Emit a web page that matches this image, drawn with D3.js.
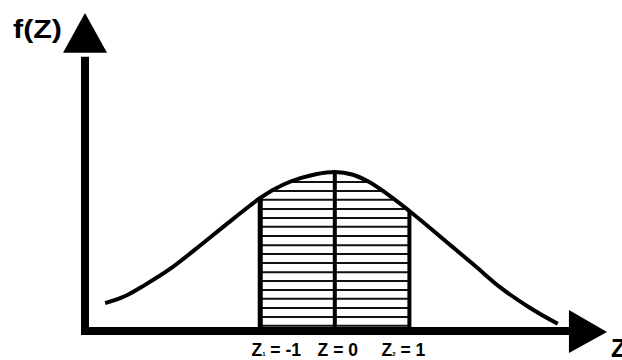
<!DOCTYPE html>
<html>
<head>
<meta charset="utf-8">
<script src="https://cdn.jsdelivr.net/npm/d3@7"></script>
<style>
  body { margin: 0; background: #fff; }
  text { font-family: "Liberation Sans", Arial, sans-serif; font-weight: bold; fill: #000; }
</style>
</head>
<body>
<div id="chart"></div>
<script>
// curve (z, f(z))
const zVals = [-3.08, -2.81, -2.545, -2.21, -1.88, -1.43, -1.14, -1.0, -0.695, -0.45, -0.24, 0, 0.244, 0.45, 0.70, 1.0, 1.55, 1.88, 2.21, 2.62, 2.99];
const fVals = [0.070, 0.088, 0.116, 0.156, 0.204, 0.272, 0.315, 0.335, 0.368, 0.385, 0.395, 0.400, 0.393, 0.376, 0.345, 0.302, 0.216, 0.164, 0.111, 0.058, 0.018];

// shaded band and its boundary lines
const bandZ = [-1, 0, 1];
const tickLabels = [["Z", "1", " = -1"], ["Z", "", " = 0"], ["Z", "2", " = 1"]];
const labelShift = [16, 3, -6];

// horizontal hatch levels (f units)
const hatchLevels = [0.013, 0.035, 0.058, 0.081, 0.103, 0.126, 0.148, 0.171, 0.194, 0.216, 0.239, 0.262, 0.284, 0.307, 0.330, 0.352, 0.375];

const width = 622, height = 360;

const svg = d3.select("#chart")
    .append("svg")
    .attr("width", width)
    .attr("height", height);

const x = d3.scaleLinear().domain([-3.35, 3.65]).range([85, 607]);
const y = d3.scaleLinear().domain([0, 0.8]).range([331, 13]);

const pts = zVals.map((z, i) => ({ z: z, f: fVals[i] }));
const band = pts.filter(d => d.z >= -1 && d.z <= 1);

// clip for hatching = area under the curve between z1 and z2
svg.append("clipPath")
    .attr("id", "band")
    .append("path")
    .attr("d", d3.area()
        .x(d => x(d.z))
        .y0(y(0))
        .y1(d => y(d.f))
        .curve(d3.curveMonotoneX)(band));

svg.append("g")
    .attr("clip-path", "url(#band)")
    .selectAll("line")
    .data(hatchLevels)
    .enter()
    .append("line")
    .attr("x1", x(-1))
    .attr("x2", x(1))
    .attr("y1", d => y(d))
    .attr("y2", d => y(d))
    .attr("stroke", "#111")
    .attr("stroke-width", 2);

// vertical lines at z1, 0, z2
svg.selectAll(".vline")
    .data(bandZ)
    .enter()
    .append("line")
    .attr("class", "vline")
    .attr("x1", d => x(d))
    .attr("x2", d => x(d))
    .attr("y1", y(0))
    .attr("y2", d => y(pts.find(p => p.z === d).f))
    .attr("stroke", "#000")
    .attr("stroke-width", (d, i) => i === 0 ? 5 : 4);

// the curve
svg.append("path")
    .datum(pts)
    .attr("fill", "none")
    .attr("stroke", "#000")
    .attr("stroke-width", 4)
    .attr("d", d3.line()
        .x(d => x(d.z))
        .y(d => y(d.f))
        .curve(d3.curveMonotoneX));

// axes
const x0 = x.domain()[0];
svg.append("line")
    .attr("x1", x(x0) - 4).attr("x2", x(3.16))
    .attr("y1", y(0)).attr("y2", y(0))
    .attr("stroke", "#000").attr("stroke-width", 8);
svg.append("line")
    .attr("x1", x(x0)).attr("x2", x(x0))
    .attr("y1", y(0) + 4).attr("y2", y(0.69))
    .attr("stroke", "#000").attr("stroke-width", 8);

// arrow heads
svg.append("path")
    .attr("d", `M${x(3.14)},${y(0) - 21} L${x(3.65)},${y(0) + 1} L${x(3.14)},${y(0) + 22} Z`)
    .attr("fill", "#000");
svg.append("path")
    .attr("d", `M${x(x0) - 22},${y(0.7)} L${x(x0)},${y(0.8)} L${x(x0) + 22},${y(0.7)} Z`)
    .attr("fill", "#000");

// axis titles
svg.append("text")
    .attr("x", 13)
    .attr("y", 38)
    .style("font-size", "25px")
    .attr("textLength", 49)
    .attr("lengthAdjust", "spacingAndGlyphs")
    .text("f(Z)");

svg.append("text")
    .attr("x", 611)
    .attr("y", 357)
    .style("font-size", "25px")
    .text("Z");

// tick labels
const tl = svg.selectAll(".tick-label")
    .data(bandZ)
    .enter()
    .append("text")
    .attr("class", "tick-label")
    .attr("x", (d, i) => x(d) + labelShift[i])
    .attr("y", 356)
    .attr("text-anchor", "middle")
    .style("font-size", "17.5px");

tl.append("tspan").text((d, i) => tickLabels[i][0]);
tl.append("tspan")
    .style("font-size", "6px")
    .text((d, i) => tickLabels[i][1]);
tl.append("tspan").text((d, i) => tickLabels[i][2]);
</script>
</body>
</html>
